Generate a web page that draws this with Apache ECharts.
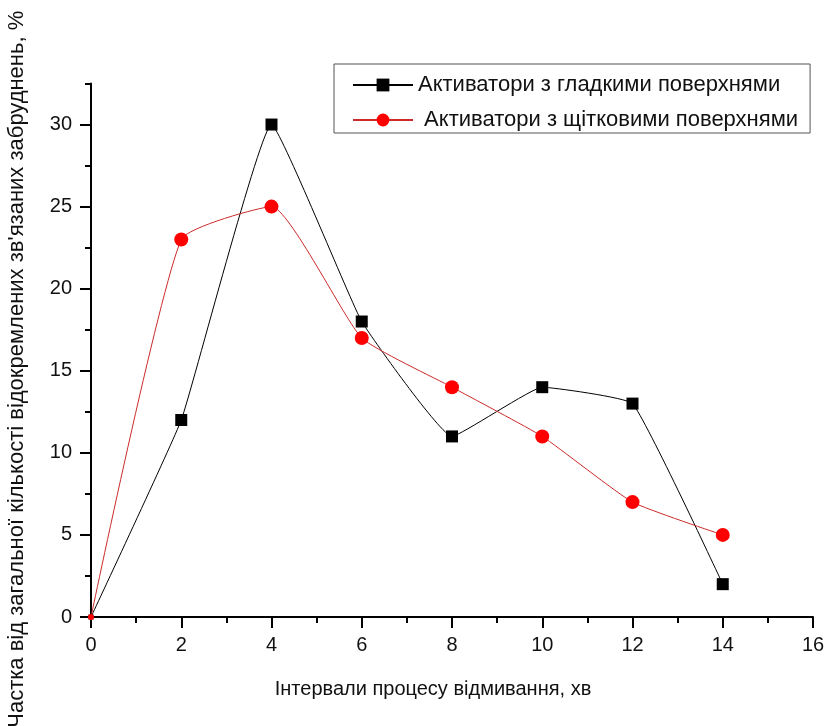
<!DOCTYPE html>
<html>
<head>
<meta charset="utf-8">
<script src="https://cdn.jsdelivr.net/npm/echarts@6/dist/echarts.min.js"></script>
<style>
  html, body { margin: 0; padding: 0; background: #fff; }
  #chart { width: 826px; height: 726px; }
</style>
</head>
<body>
<div id="chart"></div>
<script>
const xValues = [0, 2, 4, 6, 8, 10, 12, 14];
const smoothValues = [0, 12, 30, 18, 11, 14, 13, 2];
const brushValues = [0, 23, 25, 17, 14, 11, 7, 5];
const yMajorTicks = [0, 5, 10, 15, 20, 25, 30];
const yMinorTicks = [2.5, 7.5, 12.5, 17.5, 22.5, 27.5, 32.5];

const seriesNames = ["Активатори з гладкими поверхнями", " Активатори з щітковими поверхнями"];
const xName = "Інтервали процесу відмивання, хв";
const yName = "Частка від загальної кількості відокремлених зв'язаних забруднень, %";

const font = "'Liberation Sans', Arial, sans-serif";

const chart = echarts.init(document.getElementById("chart"));
chart.setOption({
  animation: false,
  backgroundColor: "#fff",
  textStyle: { fontFamily: font },
  grid: { left: 91, right: 13, top: 83.5, bottom: 109, containLabel: false, outerBoundsMode: "none" },
  legend: {
    orient: "vertical",
    left: 334,
    top: 64,
    padding: [10, 12, 2, 18],
    itemGap: 13,
    itemWidth: 60,
    itemHeight: 16,
    borderColor: "#555",
    borderWidth: 1,
    textStyle: { fontSize: 22, color: "#111", fontFamily: font },
    data: seriesNames
  },
  xAxis: {
    type: "value",
    min: 0,
    max: 16,
    interval: 2,
    name: xName,
    nameLocation: "middle",
    nameGap: 62,
    nameTextStyle: { fontSize: 20, color: "#111", padding: [0, 38, 0, 0] },
    axisLine: { lineStyle: { color: "#000", width: 2 } },
    axisTick: { inside: false, length: 11, lineStyle: { color: "#000", width: 2 } },
    minorTick: { show: true, splitNumber: 2, length: 6, lineStyle: { color: "#000", width: 2 } },
    axisLabel: { fontSize: 20, color: "#111", margin: 18 },
    splitLine: { show: false }
  },
  yAxis: [
    {
      type: "value",
      min: 0,
      max: 32.5,
      name: yName,
      nameLocation: "middle",
      nameGap: 63,
      nameTextStyle: { fontSize: 22, color: "#111", padding: [0, 38, 0, 0] },
      axisLine: { lineStyle: { color: "#000", width: 2 } },
      axisTick: { length: 11, customValues: yMajorTicks, lineStyle: { color: "#000", width: 2 } },
      axisLabel: { fontSize: 20, color: "#111", margin: 19, customValues: yMajorTicks },
      splitLine: { show: false }
    },
    {
      type: "value",
      min: 0,
      max: 32.5,
      position: "left",
      axisLine: { show: false },
      axisTick: { length: 6, customValues: yMinorTicks, lineStyle: { color: "#000", width: 2 } },
      axisLabel: { show: false },
      splitLine: { show: false }
    }
  ],
  series: [
    {
      name: seriesNames[0],
      type: "line",
      smooth: 0.1,
      symbol: "rect",
      symbolSize: (v, p) => (p.dataIndex === 0 ? 5 : 12),
      lineStyle: { color: "#000", width: 1 },
      itemStyle: { color: "#000" },
      data: xValues.map((x, i) => [x, smoothValues[i]])
    },
    {
      name: seriesNames[1],
      type: "line",
      smooth: 0.15,
      symbol: "circle",
      symbolSize: (v, p) => (p.dataIndex === 0 ? 6 : 14),
      lineStyle: { color: "#cc2a2a", width: 1 },
      itemStyle: { color: "#ff0000" },
      data: xValues.map((x, i) => [x, brushValues[i]])
    }
  ]
});
</script>
</body>
</html>
